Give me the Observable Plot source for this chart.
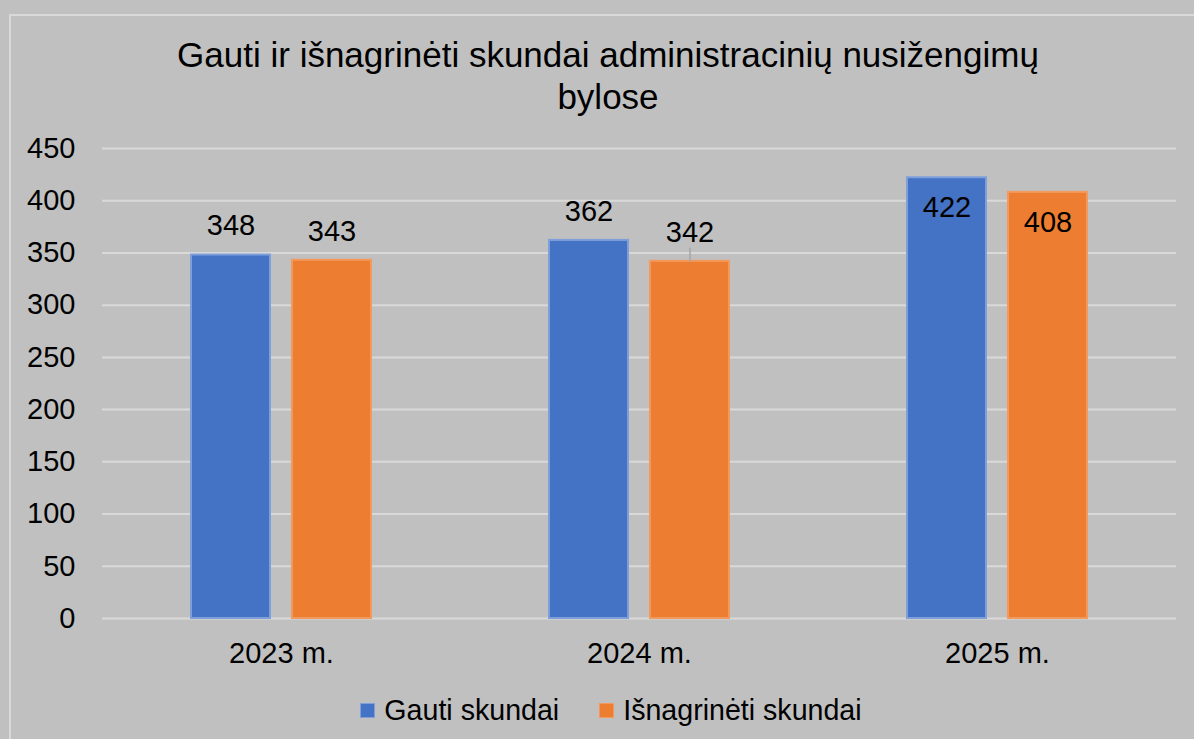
<!DOCTYPE html>
<html>
<head>
<meta charset="utf-8">
<script src="https://cdn.jsdelivr.net/npm/d3@7"></script>
<script src="https://cdn.jsdelivr.net/npm/@observablehq/plot@0.6"></script>
<style>
  html, body { margin: 0; padding: 0; }
  body { width: 1194px; height: 739px; overflow: hidden; background: #c0c0c0; position: relative;
         font-family: "Liberation Sans", Arial, sans-serif; color: #000; }
  #frame { position: absolute; left: 9px; top: 14px; width: 1400px; height: 1000px;
           border: 2px solid #d9d9d9; box-sizing: border-box; }
  #title { position: absolute; left: 9px; top: 34px; width: 1198px; text-align: center;
           font-size: 35px; line-height: 42px; }
  #chart { position: absolute; left: 0; top: 120px; }
  #legend { position: absolute; left: 0; top: 690px; width: 1222px; height: 40px;
            display: flex; justify-content: center; align-items: center; font-size: 28.6px; }
  .item { display: flex; align-items: center; }
  .sw { width: 13px; height: 13px; margin-right: 9px; }
</style>
</head>
<body>
<div id="frame"></div>
<div id="title">Gauti ir išnagrinėti skundai administracinių nusižengimų<br>bylose</div>
<div id="chart"></div>
<div id="legend"></div>
<script>
const years = ["2023 m.", "2024 m.", "2025 m."];
const series = ["Gauti skundai", "Išnagrinėti skundai"];
const gauti = [348, 362, 422];
const isnagrineti = [343, 342, 408];
const yTicks = [0, 50, 100, 150, 200, 250, 300, 350, 400, 450];

const colors = ["#4472c4", "#ed7d31"];
const strokes = ["#7f9fdb", "#f29a5e"];

const data = years.flatMap((yr, i) => [
  {year: yr, series: series[0], value: gauti[i]},
  {year: yr, series: series[1], value: isnagrineti[i]}
]);

const insideYear = years[2];
const leaderDatum = data.filter(d => d.year === years[1] && d.series === series[1]);
const lineShape = {draw(ctx, l) { ctx.moveTo(0, 0); ctx.lineTo(0, -l); }};

const chart = Plot.plot({
  width: 1194,
  height: 560,
  marginTop: 28,
  marginBottom: 62,
  marginLeft: 101,
  marginRight: 18,
  style: {background: "transparent", fontFamily: "'Liberation Sans', Arial, sans-serif", fontSize: "29px", color: "#000", overflow: "visible"},
  fx: {domain: years, padding: 0, label: null, axis: "bottom", tickSize: 0, tickPadding: 24},
  x: {domain: series, paddingInner: 0.216, paddingOuter: 0.863, axis: null},
  y: {domain: [0, 450], ticks: yTicks, label: null, tickSize: 0, tickPadding: 27},
  color: {domain: series, range: colors},
  marks: [
    Plot.gridY(yTicks, {stroke: "#d9d9d9", strokeOpacity: 1, strokeWidth: 2}),
    Plot.barY(data, {fx: "year", x: "series", y: "value", fill: "series",
      stroke: d => strokes[series.indexOf(d.series)], strokeWidth: 2}),
    Plot.vector(leaderDatum, {fx: "year", x: "series", y: "value", length: 13, rotate: 0,
      anchor: "start", shape: lineShape, stroke: "#a6a6a6", strokeWidth: 1.5}),
    Plot.text(data.filter(d => d.year !== insideYear), {fx: "year", x: "series", y: "value",
      text: d => String(d.value), dy: -29, fill: "#000", fontSize: 29}),
    Plot.text(data.filter(d => d.year === insideYear), {fx: "year", x: "series", y: "value",
      text: d => String(d.value), dy: 30, fill: "#000", fontSize: 29})
  ]
});
document.getElementById("chart").appendChild(chart);

const legend = document.getElementById("legend");
series.forEach((s, i) => {
  const item = document.createElement("div");
  item.className = "item";
  if (i > 0) item.style.marginLeft = "40px";
  const sw = document.createElement("span");
  sw.className = "sw";
  sw.style.background = colors[i];
  sw.style.border = "1px solid " + strokes[i];
  item.appendChild(sw);
  const t = document.createElement("span");
  t.textContent = s;
  item.appendChild(t);
  legend.appendChild(item);
});
</script>
</body>
</html>
